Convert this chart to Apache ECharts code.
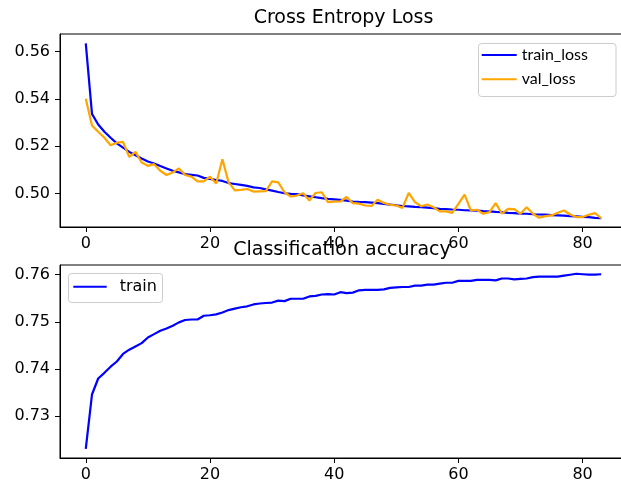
<!DOCTYPE html>
<html>
<head>
<meta charset="utf-8">
<script src="https://cdn.jsdelivr.net/npm/echarts@6/dist/echarts.min.js"></script>
<style>
html,body{margin:0;padding:0;background:#fff;}
#chart{width:621px;height:486px;}
</style>
</head>
<body>
<div id="chart"></div>
<script>
const epochs = [0,1,2,3,4,5,6,7,8,9,10,11,12,13,14,15,16,17,18,19,20,21,22,23,24,25,26,27,28,29,30,31,32,33,34,35,36,37,38,39,40,41,42,43,44,45,46,47,48,49,50,51,52,53,54,55,56,57,58,59,60,61,62,63,64,65,66,67,68,69,70,71,72,73,74,75,76,77,78,79,80,81,82,83];

const trainLoss = [0.5635,0.5337,0.5292,0.5261,0.5236,0.5212,0.5194,0.5176,0.5162,0.5148,
0.5135,0.5127,0.5116,0.5106,0.5096,0.5089,0.5082,0.5079,0.5076,0.5066,
0.5062,0.5057,0.5053,0.5044,0.5040,0.5036,0.5032,0.5026,0.5023,0.5017,
0.5012,0.5006,0.5001,0.4998,0.4997,0.4992,0.4988,0.4984,0.4980,0.4977,
0.4975,0.4973,0.4970,0.4966,0.4964,0.4963,0.4961,0.4959,0.4956,0.4953,
0.4950,0.4947,0.4945,0.4943,0.4942,0.4940,0.4938,0.4935,0.4934,0.4932,
0.4931,0.4929,0.4928,0.4927,0.4925,0.4924,0.4922,0.4921,0.4918,0.4917,
0.4915,0.4914,0.4912,0.4911,0.4910,0.4908,0.4907,0.4906,0.4904,0.4903,
0.4901,0.4900,0.4897,0.4895];

const valLoss = [0.5401,0.5288,0.5261,0.5236,0.5204,0.5215,0.5218,0.5155,0.5176,0.5131,
0.5117,0.5124,0.5096,0.5078,0.5089,0.5106,0.5078,0.5071,0.5051,0.5051,
0.5071,0.5042,0.5145,0.5047,0.5013,0.5015,0.5019,0.5008,0.5009,0.5010,
0.5051,0.5047,0.5005,0.4987,0.4991,0.5001,0.4970,0.5002,0.5005,0.4963,
0.4965,0.4966,0.4985,0.4959,0.4957,0.4949,0.4947,0.4973,0.4960,0.4952,
0.4949,0.4939,0.5002,0.4963,0.4946,0.4953,0.4942,0.4924,0.4924,0.4918,
0.4956,0.4995,0.4928,0.4931,0.4914,0.4921,0.4959,0.4915,0.4935,0.4934,
0.4914,0.4942,0.4914,0.4897,0.4904,0.4907,0.4918,0.4928,0.4911,0.4900,
0.4900,0.4910,0.4917,0.4895];

const trainAcc = [0.7231,0.7346,0.7380,0.7392,0.7405,0.7416,0.7432,0.7441,0.7448,0.7455,
0.7467,0.7474,0.7481,0.7486,0.7492,0.7499,0.7504,0.7505,0.7505,0.7513,
0.7514,0.7516,0.7520,0.7525,0.7528,0.7531,0.7533,0.7537,0.7539,0.7540,
0.7541,0.7545,0.7544,0.7549,0.7549,0.7549,0.7554,0.7555,0.7558,0.7559,
0.7558,0.7563,0.7561,0.7562,0.7567,0.7568,0.7568,0.7568,0.7569,0.7572,
0.7573,0.7574,0.7574,0.7577,0.7577,0.7579,0.7579,0.7581,0.7583,0.7583,
0.7587,0.7587,0.7587,0.7589,0.7589,0.7589,0.7588,0.7592,0.7592,0.7590,
0.7591,0.7592,0.7595,0.7596,0.7596,0.7596,0.7596,0.7598,0.7600,0.7602,
0.7601,0.7600,0.7600,0.7601];

const xTicks = [0,20,40,60,80];
const lossTicks = [0.50,0.52,0.54,0.56];
const accTicks = [0.73,0.74,0.75,0.76];

const titles = ['Cross Entropy Loss','Classification accuracy'];
const seriesNames = ['train_loss','val_loss','train'];

const FONT = 'DejaVu Sans';
const pairs = arr => arr.map((v,i) => [epochs[i], v]);

function xAxis(idx){
  return {
    type:'value', gridIndex: idx, min: -4.15, max: 87.15,
    splitLine:{show:false},
    axisLine:{show:true, onZero:false, lineStyle:{color:'#000', width:1}},
    axisTick:{show:true, length:5, customValues: xTicks, lineStyle:{color:'#000', width:1}},
    axisLabel:{customValues: xTicks, margin:9, color:'#000', fontFamily:FONT, fontSize:16}
  };
}
function yAxis(idx, min, max, ticks){
  return {
    type:'value', gridIndex: idx, min: min, max: max,
    splitLine:{show:false},
    axisLine:{show:true, onZero:false, lineStyle:{color:'#000', width:1}},
    axisTick:{show:true, length:5, customValues: ticks, lineStyle:{color:'#000', width:1}},
    axisLabel:{customValues: ticks, margin:10, color:'#000', fontFamily:FONT, fontSize:16,
      formatter: v => v.toFixed(2)}
  };
}

const chart = echarts.init(document.getElementById('chart'), null, {renderer:'canvas'});
chart.setOption({
  animation:false,
  backgroundColor:'#fff',
  title:[
    {text:titles[0], left:343.5, top:9, textAlign:'center', padding:0,
     textStyle:{fontFamily:FONT, fontSize:19, fontWeight:'normal', color:'#000'}},
    {text:titles[1], left:342, top:241, textAlign:'center', padding:0,
     textStyle:{fontFamily:FONT, fontSize:19, fontWeight:'normal', color:'#000'}}
  ],
  grid:[
    {left:60, top:34, width:567, height:193, show:true, borderColor:'#000', borderWidth:1,
     backgroundColor:'transparent', outerBoundsMode:'none', containLabel:false},
    {left:60, top:265, width:567, height:193, show:true, borderColor:'#000', borderWidth:1,
     backgroundColor:'transparent', outerBoundsMode:'none', containLabel:false}
  ],
  xAxis:[xAxis(0), xAxis(1)],
  yAxis:[yAxis(0, 0.4858, 0.5675, lossTicks), yAxis(1, 0.72114, 0.76206, accTicks)],
  graphic:[
    {type:'rect', z:3, shape:{x:478.5, y:43.5, width:137.5, height:53, r:3},
     style:{fill:'rgba(255,255,255,0.8)', stroke:'#cccccc', lineWidth:1}},
    {type:'rect', z:3, shape:{x:68.5, y:273.5, width:94, height:29, r:3},
     style:{fill:'rgba(255,255,255,0.8)', stroke:'#cccccc', lineWidth:1}}
  ],
  legend:[
    {data:[seriesNames[0], seriesNames[1]], orient:'vertical', left:481.7, top:46, padding:0,
     itemWidth:35, itemHeight:2, itemGap:6.3, icon:'rect', z:5,
     textStyle:{fontFamily:'Lato', fontSize:16, lineHeight:18, color:'#000'}},
    {data:[seriesNames[2]], orient:'vertical', left:73.3, top:277.7, padding:0,
     itemWidth:33.4, itemHeight:2, icon:'rect', z:5,
     textStyle:{fontFamily:FONT, fontSize:16, lineHeight:18, color:'#000',
       rich:{}, padding:[0,0,0,8]}}
  ],
  series:[
    {name:seriesNames[0], type:'line', xAxisIndex:0, yAxisIndex:0, data:pairs(trainLoss),
     showSymbol:false, symbol:'none', color:'#0000ff', lineStyle:{width:2.2, color:'#0000ff'}, z:2},
    {name:seriesNames[1], type:'line', xAxisIndex:0, yAxisIndex:0, data:pairs(valLoss),
     showSymbol:false, symbol:'none', color:'#ffa500', lineStyle:{width:2.2, color:'#ffa500'}, z:3},
    {name:seriesNames[2], type:'line', xAxisIndex:1, yAxisIndex:1, data:pairs(trainAcc),
     showSymbol:false, symbol:'none', color:'#0000ff', lineStyle:{width:2.2, color:'#0000ff'}, z:2}
  ]
});
</script>
</body>
</html>
